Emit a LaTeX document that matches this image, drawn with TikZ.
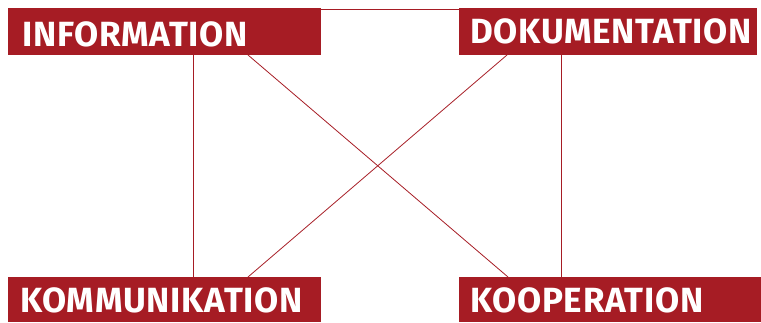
\documentclass[tikz,border=0pt]{standalone}
\usepackage{fontspec}
\setmainfont{Fira Sans}[LetterSpace=2]
\usetikzlibrary{calc}
\definecolor{unired}{RGB}{166,28,36}
\tikzset{
  box/.style={draw=none, fill=unired, minimum height=#1, inner sep=0pt, outer sep=0pt},
  lbl/.style={text=white, font=\fontsize{35}{35}\selectfont\bfseries, inner sep=0pt, anchor=base west},
  link/.style={draw=unired, line width=0.8pt}
}
\begin{document}
\begin{tikzpicture}[x=1pt,y=1pt]
\useasboundingbox (0,0) rectangle (761,322);
\node[box=47pt, minimum width=313pt] (inf) at (164.5,290.5) {};
\node[box=47pt, minimum width=298pt] (dok) at (608,290.5) {};
\node[box=45pt, minimum width=313pt] (kom) at (164.5,22.5) {};
\node[box=45pt, minimum width=302pt] (koo) at (610,22.5) {};
\node[lbl] (tinf) at (22,275.3) {INFORMATION};
\node[lbl] (tdok) at (470,278.7) {DOKUMENTATION};
\node[lbl] (tkom) at (20,9.3) {KOMMUNIKATION};
\node[lbl] (tkoo) at (470,9.3) {KOOPERATION};
\draw[link] ($(inf.north east)+(0,-1)$) -- ($(dok.north west)+(0,-1)$);
\draw[link] ($(inf.south west)+(185,0)$) -- ($(kom.north west)+(185,0)$);
\draw[link] ($(dok.south west)+(102,0)$) -- ($(koo.north west)+(102,0)$);
\draw[link] ($(inf.south west)+(240,0)$) -- ($(koo.north west)+(49,0)$);
\draw[link] ($(dok.south west)+(48,0)$) -- ($(kom.north west)+(240,0)$);
\end{tikzpicture}
\end{document}
